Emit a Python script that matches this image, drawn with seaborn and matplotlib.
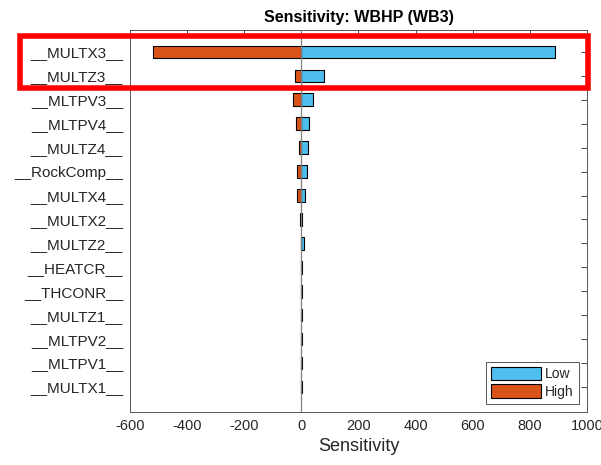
import matplotlib
matplotlib.use("Agg")
import matplotlib.pyplot as plt
import matplotlib.patches as mpatches
import pandas as pd
import seaborn as sns


PARAMS = [
    "__MULTX3__", "__MULTZ3__", "__MLTPV3__", "__MLTPV4__", "__MULTZ4__",
    "__RockComp__", "__MULTX4__", "__MULTX2__", "__MULTZ2__", "__HEATCR__",
    "__THCONR__", "__MULTZ1__", "__MLTPV2__", "__MLTPV1__", "__MULTX1__",
]
LOW = [889, 78, 39, 27, 22, 19, 11, 3, 8, 1, 0.5, 0.5, 0.5, 0.5, 0.5]
HIGH = [-518, -24, -30, -20, -9, -15, -16, -6, -1, -2, -0.5, -0.5, -0.5, -0.5, -0.5]

BLUE = "#4DBEEE"
ORANGE = "#D95319"
INK = "#262626"


def main() -> None:
    sns.set_theme(style="white")
    plt.rcParams["font.family"] = ["Liberation Sans", "DejaVu Sans"]
    plt.rcParams["axes.unicode_minus"] = False

    df = pd.DataFrame({"param": PARAMS, "low": LOW, "high": HIGH})

    fig = plt.figure(figsize=(6.01, 4.65), dpi=100)
    ax = fig.add_axes([0.2163, 0.114, 0.7604, 0.8215])

    sns.barplot(data=df, x="low", y="param", orient="h", color=BLUE, saturation=1,
                width=0.53, edgecolor="black", linewidth=0.8, ax=ax)
    sns.barplot(data=df, x="high", y="param", orient="h", color=ORANGE, saturation=1,
                width=0.53, edgecolor="black", linewidth=0.8, ax=ax)

    ax.axvline(0, color="#808080", lw=0.9, zorder=3)

    ax.set_xlim(-600, 1000)
    ax.set_ylim(15.05, -0.92)
    ax.set_xticks(range(-600, 1001, 200))
    ax.set_xlabel("Sensitivity", fontsize=13, color=INK, labelpad=4)
    ax.set_ylabel("")
    ax.set_title("Sensitivity: WBHP (WB3)", fontsize=11.5, fontweight="bold", color="black", pad=6)

    ax.tick_params(axis="both", direction="in", length=4, width=0.6, color=INK,
                   top=True, right=True, labelcolor=INK, pad=5)
    ax.tick_params(axis="x", labelsize=10.5)
    ax.tick_params(axis="y", labelsize=11)
    for s in ax.spines.values():
        s.set_color("#555555")
        s.set_linewidth(0.7)

    handles = [
        mpatches.Patch(facecolor=BLUE, edgecolor="black", lw=0.8, label="Low"),
        mpatches.Patch(facecolor=ORANGE, edgecolor="black", lw=0.8, label="High"),
    ]
    leg = ax.legend(handles=handles, loc="lower right", fontsize=10, handlelength=3.6,
                    handleheight=1.1, handletextpad=0.3, labelspacing=0.25,
                    borderpad=0.35, borderaxespad=0.6, fancybox=False, framealpha=1)
    leg.get_frame().set_edgecolor("#555555")
    leg.get_frame().set_linewidth(0.7)

    # red highlight box round the two top rows
    fig.patches.append(mpatches.Rectangle((0.0341, 0.8108), 0.944, 0.1118, transform=fig.transFigure,
                                          fill=False, edgecolor="red", lw=4, clip_on=False, zorder=10))

    fig.savefig("out.png", dpi=100)
    plt.close(fig)


if __name__ == "__main__":
    main()
